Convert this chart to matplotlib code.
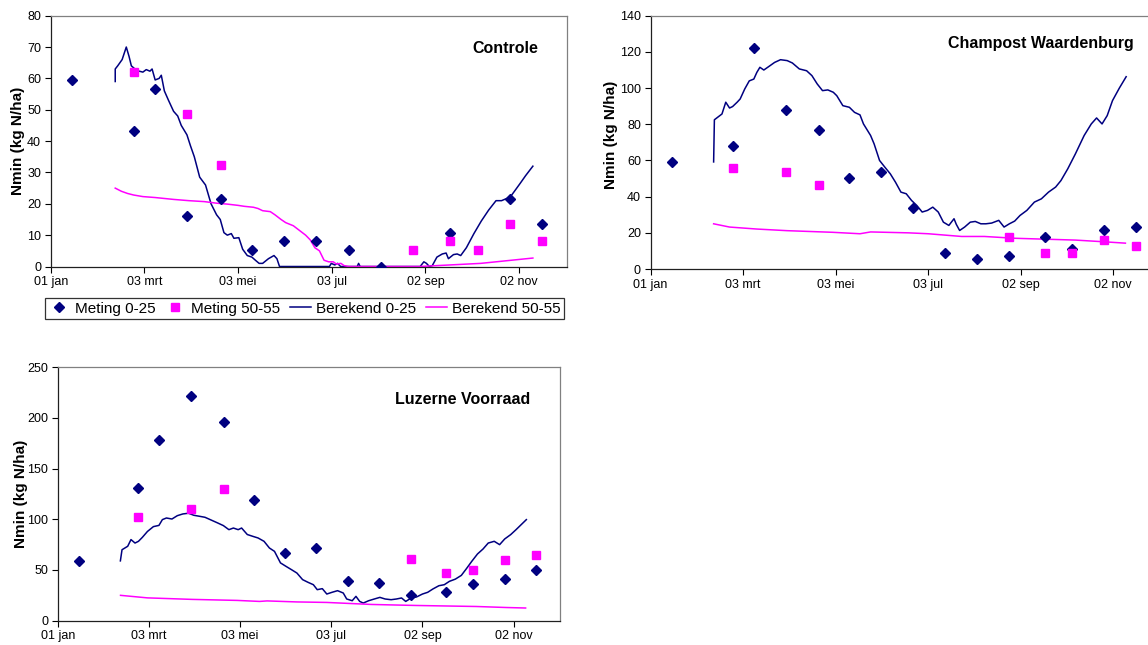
import matplotlib
matplotlib.use("Agg")
import matplotlib.pyplot as plt
from matplotlib.lines import Line2D

plt.rcParams['font.family'] = ['Liberation Sans', 'DejaVu Sans']

NAVY = "#000080"
MAGENTA = "#FF00FF"

# x axis: day of year (01 jan = 0)
tick_days = [0, 61, 122, 183, 244, 305]
tick_labels = ["01 jan", "03 mrt", "03 mei", "03 jul", "02 sep", "02 nov"]

# sampling dates of the measurements
meas_days = [14, 54, 68, 89, 111, 131, 152, 173, 194, 215, 236, 260, 278, 299, 320]
deep_days = [54, 89, 111, 236, 260, 278, 299, 320]

# ---------------- Controle ----------------
ctrl_meting_0_25 = [59.5, 43.1, 56.7, 16.0, 21.6, 5.3, 8.1, 8.1, 5.3, 0.0, None, 10.7, None, 21.6, 13.4]
ctrl_meting_50_55 = [62.1, 48.6, 32.3, 5.3, 8.1, 5.3, 13.4, 8.1]

ctrl_calc_0_25_days = [42, 42, 43.6, 46.5, 49.2, 51, 52.5, 56, 60, 62.2, 64.6, 66, 68, 70.6, 72, 74,
                       76.7, 80, 82.7, 85, 88.7, 91, 93.5, 97, 100.8, 104.4, 108, 110.4, 112.8, 115,
                       117.6, 119.3, 122.5, 125, 128, 131, 133.3, 135.7, 138, 141.8, 145.4, 147.3, 149,
                       181.5, 182.7, 185, 186.8, 188.8, 199.6, 200.5, 201.5, 240.6, 243, 244.7, 246.6,
                       248.5, 251.5, 255, 257.5, 259, 262.3, 264.7, 267, 270.7, 275.6, 280.4, 285.2,
                       290, 293.6, 296, 299, 302, 305.7, 309.3, 314]
ctrl_calc_0_25 = [59, 63, 64, 66, 70, 67, 64, 62.5, 62, 62.8, 62.3, 63, 59.5, 60, 61, 56,
                  53, 49.5, 48, 45, 42, 38.5, 35, 28.5, 26, 20, 16.5, 15, 10.8, 10,
                  10.5, 9, 9.2, 5.5, 3.5, 3, 2, 1, 1, 2.5, 3.5, 2.5, 0,
                  0, 1, 0.5, 1, 0, 0, 1, 0, 0, 1.5, 1, 0,
                  0.3, 3, 4, 4.3, 2.5, 3.8, 4, 3.5, 6, 10.5, 14.5, 18,
                  21, 21, 21.5, 22, 24, 26.5, 29, 32]

ctrl_calc_50_55_days = [42, 46, 50, 54, 60, 68, 80, 90, 100, 108, 115, 122, 126, 132, 135, 138,
                        143, 146, 150, 153, 158, 162, 166, 169, 172, 175, 178, 181, 184, 186, 189,
                        191, 194, 240, 260, 280, 300, 314]
ctrl_calc_50_55 = [25, 24, 23.3, 22.8, 22.3, 22, 21.4, 21, 20.7, 20.2, 19.9, 19.5, 19.2, 18.9, 18.5, 17.8,
                   17.5, 16.5, 15, 14, 13, 11.5, 10, 8.5, 6, 5, 2, 1.5, 1.5, 0.8, 1,
                   0.3, 0, 0, 0.5, 1, 2, 2.7]

# ---------------- Champost Waardenburg ----------------
champ_meting_0_25 = [59.2, 68.2, 122.1, 87.9, 76.9, 50.2, 53.7, 34.0, 8.8, 5.3, 7.0, 17.8, 11.0, 21.5, 23.4]
champ_meting_50_55 = [55.7, 53.9, 46.5, 17.8, 8.8, 8.8, 16.2, 12.5]

champ_calc_0_25_days = [41.5, 42, 47, 49.5, 52, 54, 57, 59, 62, 65, 68, 70, 72, 74.6, 78, 81.7, 85.6,
                        90, 93.4, 98, 102.8, 106.3, 109.8, 113.3, 116.8, 120.4, 122.7, 126.7, 131,
                        134.4, 138, 140.3, 145, 147.3, 150.9, 154.4, 158, 161.4, 165, 168.5, 172,
                        175.5, 179, 182.5, 186, 189.6, 193, 196.6, 200, 201.5, 203.7, 207, 210.7,
                        214, 217.7, 221, 224.8, 229.5, 233, 236.5, 240, 243.5, 248, 253, 257.6,
                        262.3, 267, 270.5, 275, 280, 285.8, 290.5, 294, 297.6, 301, 304.5, 309, 313.5]
champ_calc_0_25 = [59.2, 82.5, 85.7, 92.2, 89, 89.8, 92.2, 94, 99.5, 104, 105, 108.7, 111.5, 110, 112, 114.2, 115.7,
                   115.2, 113.9, 110.6, 109.6, 106.9, 102.3, 98.6, 99, 97.7, 95.8, 90.3, 89.4,
                   86.6, 85.2, 80.2, 73.8, 69.2, 60, 56.3, 52.6, 48, 42.5, 41.6, 37.9,
                   35.1, 31.5, 32.4, 34.2, 31.5, 25.9, 24.1, 27.8, 24.7, 21.3, 23.2, 25.9,
                   26.3, 25, 25, 25.4, 26.9, 23.2, 25, 26.5, 29.6, 32.4, 37, 38.8,
                   42.5, 45.3, 48.9, 55.4, 63.6, 73.8, 80.2, 83.5, 80.2, 84.8, 93.1, 100, 106.3]

champ_calc_50_55_days = [41.5, 52, 70, 90, 120, 138, 145, 170, 183, 205, 220, 240, 260, 280, 300, 313]
champ_calc_50_55 = [25, 23.2, 22.1, 21.2, 20.3, 19.5, 20.5, 20, 19.5, 18, 18, 17, 16.5, 16, 15, 14.3]

# ---------------- Luzerne Voorraad ----------------
luz_meting_0_25 = [59.2, 131.2, 178, 221.4, 196, 118.8, 66.4, 72, 39.5, 37.5, 25.3, 28.6, 35.9, 41.4, 50.3]
luz_meting_50_55 = [102.3, 109.9, 129.6, 61.2, 47, 50.3, 59.5, 64.8]

luz_calc_0_25_days = [41.9, 43, 46.8, 49, 51.7, 54, 56.6, 60, 64, 67.7, 70, 72.7, 76.4, 80, 83.7, 87.5,
                      91, 94.8, 98.5, 102, 107, 110.8, 114.5, 117.5, 120.7, 123, 126.8, 130.5, 134,
                      138, 141.6, 145, 149, 152.7, 156.4, 160, 163.8, 167.5, 171, 173.6, 177, 180,
                      183.5, 187.2, 191, 193.3, 197, 199.5, 202, 204.4, 208, 211.8, 215.5, 219, 223,
                      226.6, 230, 232.8, 236.5, 240, 244, 247.5, 251, 255, 258.6, 262, 266, 270,
                      273.4, 277, 280.8, 284.5, 288, 292, 295.6, 299, 303, 306.6, 310.5, 313.5]
luz_calc_0_25 = [59, 70, 73.4, 80, 76.6, 78.3, 82.2, 88, 92.8, 94, 99.7, 101.3, 100.3, 103.6, 105.3, 106,
                 104, 103, 102, 99.7, 96.4, 93.8, 89.8, 91.4, 89.8, 91.4, 85, 83.2, 81.6,
                 78.3, 71.7, 68.4, 57, 53.6, 50.3, 47, 40.5, 37.8, 35.5, 30.6, 31.6, 26.3,
                 28, 29.6, 27.3, 21.4, 19.7, 24, 19, 17.4, 19.7, 21.4, 23, 21.4, 20.7,
                 21.4, 22.4, 19, 22.4, 23.4, 26.3, 28, 31.3, 34.5, 35.5, 38.8, 41, 44.7,
                 51.3, 58.6, 65.8, 70.7, 76.6, 78.3, 75, 80.6, 84.9, 89.8, 95.4, 99.7]

luz_calc_50_55_days = [42, 60, 90, 120, 135, 140, 160, 180, 195, 210, 225, 240, 260, 280, 300, 313]
luz_calc_50_55 = [25, 22.5, 21, 20, 19, 19.5, 18.5, 18, 17, 16, 15.5, 15, 14.5, 14, 13, 12.5]


def pairs(days, values):
    pts = [(d, v) for d, v in zip(days, values) if v is not None]
    return [p[0] for p in pts], [p[1] for p in pts]


def panel(ax, title, ymax, ystep, m025, m5055, c025_d, c025, c5055_d, c5055, title_xy):
    ax.set_xlim(0, 336)
    ax.set_ylim(0, ymax)
    ax.set_yticks(range(0, ymax + 1, ystep))
    ax.set_xticks(tick_days)
    ax.set_xticklabels(tick_labels)
    ax.tick_params(axis="both", direction="out", length=4, width=0.8, labelsize=9,
                   color="black", pad=3)
    for side in ("top", "right"):
        ax.spines[side].set_color("#808080")
        ax.spines[side].set_linewidth(0.9)
    for side in ("left", "bottom"):
        ax.spines[side].set_color("#202020")
        ax.spines[side].set_linewidth(0.9)

    ax.plot(c025_d, c025, color=NAVY, lw=1.1, zorder=2)
    ax.plot(c5055_d, c5055, color=MAGENTA, lw=1.1, zorder=2)
    x, y = pairs(meas_days, m025)
    ax.plot(x, y, ls="none", marker="D", ms=5.4, color=NAVY, mec=NAVY, zorder=3)
    ax.plot(deep_days, m5055, ls="none", marker="s", ms=6.4, color=MAGENTA, mec=MAGENTA, zorder=3)

    ax.text(title_xy[0], title_xy[1], title, transform=ax.transAxes, ha="right", va="center",
            fontsize=11.5, fontweight="bold")
    ax.set_ylabel("Nmin (kg N/ha)", fontsize=11, fontweight="bold")


fig = plt.figure(figsize=(11.48, 6.45), dpi=100)

ax1 = fig.add_axes([0.0442, 0.5868, 0.4494, 0.3889])
ax2 = fig.add_axes([0.5668, 0.5829, 0.4439, 0.3927])
ax3 = fig.add_axes([0.0503, 0.0377, 0.4375, 0.3929])

panel(ax1, "Controle", 80, 10, ctrl_meting_0_25, ctrl_meting_50_55,
      ctrl_calc_0_25_days, ctrl_calc_0_25, ctrl_calc_50_55_days, ctrl_calc_50_55, (0.944, 0.871))
panel(ax2, "Champost Waardenburg", 140, 20, champ_meting_0_25, champ_meting_50_55,
      champ_calc_0_25_days, champ_calc_0_25, champ_calc_50_55_days, champ_calc_50_55, (0.948, 0.892))
panel(ax3, "Luzerne Voorraad", 250, 50, luz_meting_0_25, luz_meting_50_55,
      luz_calc_0_25_days, luz_calc_0_25, luz_calc_50_55_days, luz_calc_50_55, (0.94, 0.871))

ax1.yaxis.set_label_coords(-0.050, 0.5)
ax2.yaxis.set_label_coords(-0.064, 0.53)
ax3.yaxis.set_label_coords(-0.059, 0.5)

handles = [
    Line2D([], [], ls="none", marker="D", ms=5.4, color=NAVY),
    Line2D([], [], ls="none", marker="s", ms=6.4, color=MAGENTA),
    Line2D([], [], color=NAVY, lw=1.1),
    Line2D([], [], color=MAGENTA, lw=1.1),
]
labels = ["Meting 0-25", "Meting 50-55", "Berekend 0-25", "Berekend 50-55"]
leg = fig.legend(handles, labels, loc="center", bbox_to_anchor=(0.2652, 0.5217), ncol=4,
                 fontsize=11, frameon=True, fancybox=False, edgecolor="black",
                 handlelength=1.4, handletextpad=0.35, columnspacing=0.6, borderpad=0.2,
                 borderaxespad=0)
leg.get_frame().set_linewidth(0.9)

fig.savefig("out.png", dpi=100)
